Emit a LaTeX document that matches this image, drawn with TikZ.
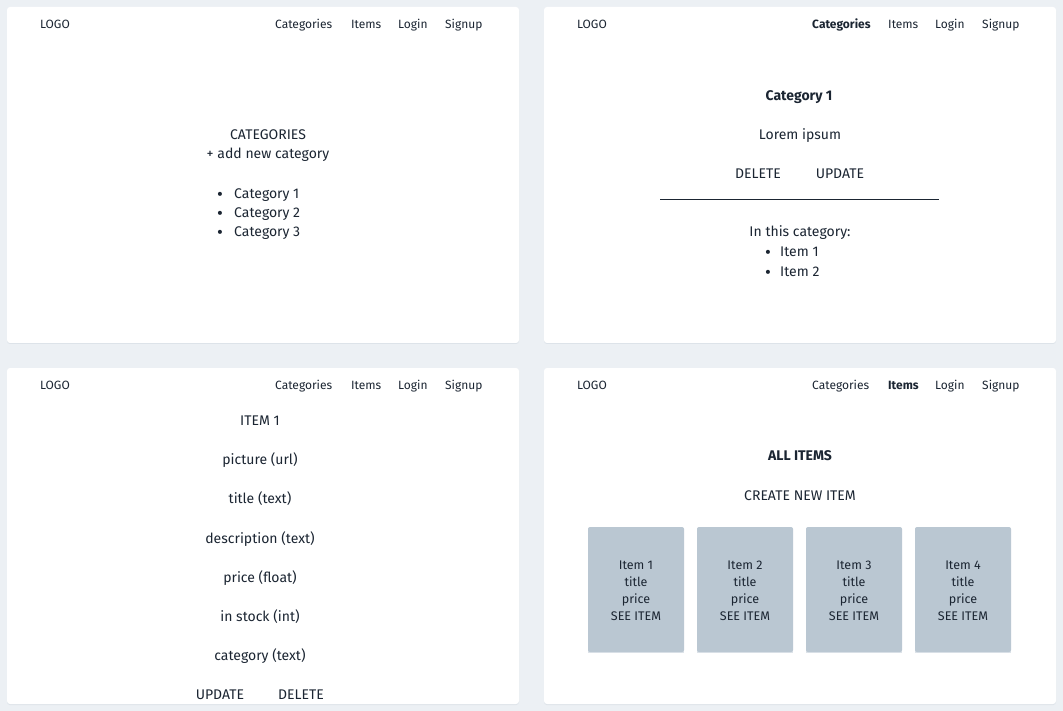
\documentclass[tikz,border=0pt]{standalone}
\usepackage{fontspec}
\setmainfont{Fira Sans}
\definecolor{bg}{HTML}{ECF0F4}
\definecolor{shadow}{HTML}{DDE3E9}
\definecolor{ink}{HTML}{1B2532}
\definecolor{card}{HTML}{BAC7D2}
\begin{document}
\begin{tikzpicture}[x=1pt,y=-1pt,
  panel/.style={fill=white,rounded corners=3pt},
  pshadow/.style={fill=shadow,rounded corners=3pt},
  cardbox/.style={fill=card,rounded corners=2pt},
  nav/.style={anchor=base west,inner sep=0pt,text=ink,font=\fontsize{12}{14}\selectfont},
  navb/.style={nav,font=\fontsize{12}{14}\selectfont\bfseries},
  body/.style={anchor=base,inner sep=0pt,text=ink,font=\fontsize{14}{16}\selectfont},
  bodyb/.style={body,font=\fontsize{14}{16}\selectfont\bfseries},
  bodyl/.style={body,anchor=base west},
  bullet/.style={inner sep=0pt,text=ink,anchor=base west,yshift=-2pt,font=\fontsize{18}{16}\selectfont},
  cardtxt/.style={inner sep=0pt,text=ink,align=center,font=\fontsize{12.5}{17}\selectfont},
  rule/.style={draw=ink,line width=1pt}]
\useasboundingbox (0,0) rectangle (1063,711);
\fill[bg] (0,0) rectangle (1063,711);
% panels
\fill[pshadow] (7,8) rectangle (519,344);
\fill[pshadow] (544,8) rectangle (1056,344);
\fill[pshadow] (7,369) rectangle (519,705);
\fill[pshadow] (544,369) rectangle (1056,705);
\fill[panel] (7,7) rectangle (519,343);
\fill[panel] (544,7) rectangle (1056,343);
\fill[panel] (7,368) rectangle (519,704);
\fill[panel] (544,368) rectangle (1056,704);
% ---------- top-left
\node[nav] (l1) at (40,28.5) {LOGO};
\node[nav] (c1) at (275,28.5) {Categories};
\node[nav] (i1) at (351,28.5) {Items};
\node[nav] (g1) at (398,28.5) {Login};
\node[nav] (s1) at (445,28.5) {Signup};
\node[body] (cat) at (268,139.3) {CATEGORIES};
\node[body] (add) at (268,159) {+ add new category};
\node[bullet] (b1) at (217,198.5) {•};
\node[bodyl] (t1) at (234,198.5) {Category 1};
\node[bullet] (b2) at (217,217.5) {•};
\node[bodyl] (t2) at (234,217.5) {Category 2};
\node[bullet] (b3) at (217,237) {•};
\node[bodyl] (t3) at (234,237) {Category 3};
% ---------- top-right
\node[nav] (l2) at (577,28.5) {LOGO};
\node[navb] (c2) at (812,28.5) {Categories};
\node[nav] (i2) at (888,28.5) {Items};
\node[nav] (g2) at (935,28.5) {Login};
\node[nav] (s2) at (982,28.5) {Signup};
\node[bodyb] (ct) at (799,101) {Category 1};
\node[body] (lor) at (800,140) {Lorem ipsum};
\node[body] (del) at (758,179) {DELETE};
\node[body] (upd) at (840,179) {UPDATE};
\coordinate (ra) at (660,199.5);
\coordinate (rb) at (939,199.5);
\draw[rule] (ra) -- (rb);
\node[body] (inc) at (800,237) {In this category:};
\node[bullet] (ib1) at (765,257) {•};
\node[bodyl] (it1) at (780,257) {Item 1};
\node[bullet] (ib2) at (765,277) {•};
\node[bodyl] (it2) at (780,277) {Item 2};
% ---------- bottom-left
\node[nav] (l3) at (40,389.5) {LOGO};
\node[nav] (c3) at (275,389.5) {Categories};
\node[nav] (i3) at (351,389.5) {Items};
\node[nav] (g3) at (398,389.5) {Login};
\node[nav] (s3) at (445,389.5) {Signup};
\node[body] (item) at (260,425) {ITEM 1};
\node[body] (pic) at (260,464.5) {picture (url)};
\node[body] (tit) at (260,503) {title (text)};
\node[body] (des) at (260,543) {description (text)};
\node[body] (pri) at (260,582) {price (float)};
\node[body] (sto) at (260,621) {in stock (int)};
\node[body] (cag) at (260,660) {category (text)};
\node[body] (upd2) at (220,699) {UPDATE};
\node[body] (del2) at (301,699) {DELETE};
% ---------- bottom-right
\node[nav] (l4) at (577,389.5) {LOGO};
\node[nav] (c4) at (812,389.5) {Categories};
\node[navb] (i4) at (888,389.5) {Items};
\node[nav] (g4) at (935,389.5) {Login};
\node[nav] (s4) at (982,389.5) {Signup};
\node[bodyb] (all) at (800,460) {ALL ITEMS};
\node[body] (cre) at (800,500) {CREATE NEW ITEM};
\foreach \k/\x in {1/588,2/697,3/806,4/915}{
  \fill[shadow] (\x,528) rectangle ++(96,125);
  \fill[cardbox] (\x,527) rectangle ++(96,125);
  \node[cardtxt] (card\k) at (\x+48,591) {Item \k\\title\\price\\SEE ITEM};
}
\end{tikzpicture}
\end{document}
